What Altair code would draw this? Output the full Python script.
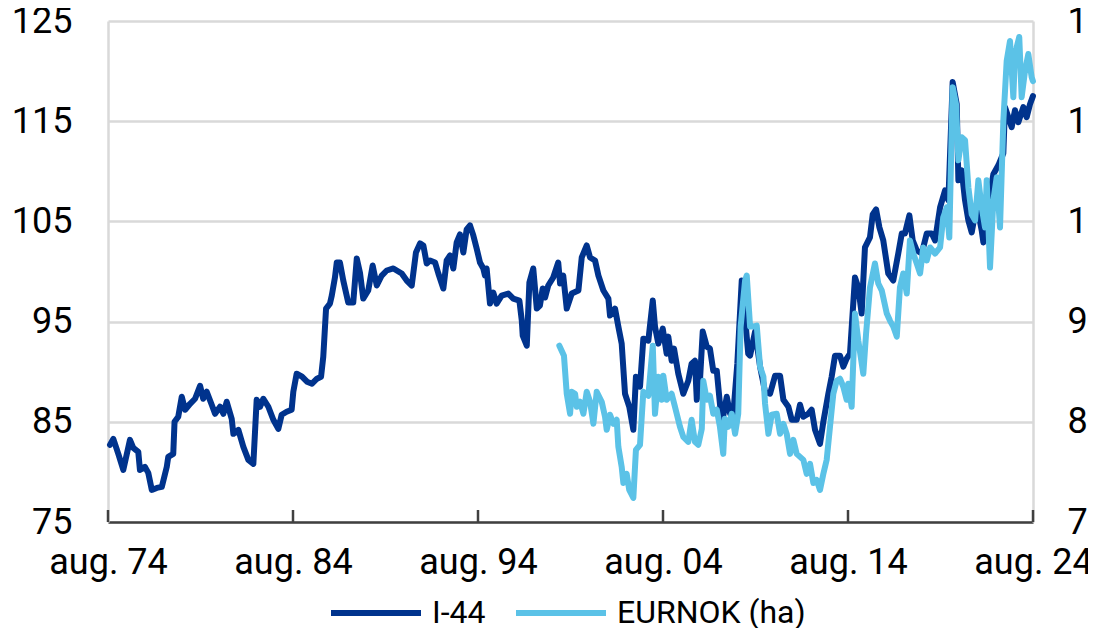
import altair as alt
import pandas as pd

# ---- data (decimal years) ----
i44_year = [1974.69, 1974.87, 1975.14, 1975.41, 1975.77, 1975.95, 1976.22, 1976.31, 1976.58, 1976.76,
            1976.95, 1977.22, 1977.49, 1977.76, 1977.84, 1978.11, 1978.18, 1978.38, 1978.57, 1978.75,
            1979.02, 1979.29, 1979.56, 1979.73, 1979.92, 1980.19, 1980.37, 1980.64, 1980.82, 1981.00,
            1981.27, 1981.36, 1981.63, 1981.90, 1982.17, 1982.44, 1982.62, 1982.80, 1982.98, 1983.25,
            1983.52, 1983.79, 1983.97, 1984.24, 1984.51, 1984.60, 1984.78, 1985.07, 1985.34, 1985.61,
            1985.88, 1986.10, 1986.22, 1986.37, 1986.58, 1986.68, 1986.85, 1986.95, 1987.12, 1987.30,
            1987.57, 1987.84, 1988.03, 1988.21, 1988.38, 1988.65, 1988.89, 1989.11, 1989.38, 1989.65,
            1990.01, 1990.46, 1990.73, 1991.00, 1991.23, 1991.45, 1991.63, 1991.81, 1991.99, 1992.26,
            1992.44, 1992.71, 1992.89, 1993.07, 1993.25, 1993.43, 1993.61, 1993.79, 1993.97, 1994.15,
            1994.33, 1994.51, 1994.69, 1994.87, 1994.96, 1995.05, 1995.23, 1995.41, 1995.59, 1995.86,
            1996.22, 1996.49, 1996.82, 1996.95, 1997.00, 1997.22, 1997.36, 1997.57, 1997.76, 1997.93,
            1998.08, 1998.21, 1998.38, 1998.65, 1998.92, 1999.02, 1999.19, 1999.38, 1999.65, 2000.01,
            2000.19, 2000.46, 2000.64, 2000.91, 2001.09, 2001.36, 2001.63, 2001.72, 2001.99, 2002.17,
            2002.35, 2002.53, 2002.76, 2002.98, 2003.12, 2003.34, 2003.52, 2003.79, 2004.03, 2004.15,
            2004.33, 2004.57, 2004.78, 2004.87, 2005.05, 2005.18, 2005.41, 2005.68, 2005.95, 2006.13,
            2006.31, 2006.41, 2006.58, 2006.73, 2006.95, 2007.12, 2007.30, 2007.49, 2007.66, 2007.76,
            2008.03, 2008.21, 2008.38, 2008.60, 2008.84, 2009.19, 2009.29, 2009.56, 2009.83, 2010.10,
            2010.37, 2010.64, 2010.91, 2011.09, 2011.36, 2011.54, 2011.81, 2011.99, 2012.17, 2012.44,
            2012.62, 2012.80, 2013.07, 2013.25, 2013.52, 2013.70, 2013.88, 2014.15, 2014.33, 2014.51,
            2014.69, 2014.96, 2015.14, 2015.32, 2015.50, 2015.77, 2015.92, 2016.10, 2016.28, 2016.49,
            2016.76, 2017.03, 2017.30, 2017.49, 2017.66, 2017.90, 2018.08, 2018.30, 2018.57, 2018.84,
            2019.11, 2019.29, 2019.56, 2019.83, 2020.01, 2020.24, 2020.46, 2020.55, 2020.73, 2020.91,
            2021.09, 2021.27, 2021.54, 2021.81, 2021.90, 2022.08, 2022.26, 2022.44, 2022.71, 2022.98,
            2023.07, 2023.43, 2023.61, 2023.79, 2024.06, 2024.24, 2024.42, 2024.58]
i44_value = [82.7, 83.3, 81.8, 80.2, 83.2, 82.4, 82.0, 80.2, 80.5, 79.9,
             78.2, 78.4, 78.5, 80.5, 81.5, 81.8, 85.0, 85.5, 87.5, 86.2,
             86.8, 87.3, 88.6, 87.3, 88.0, 86.7, 85.8, 86.5, 85.8, 87.0,
             85.3, 83.8, 84.2, 82.5, 81.2, 80.8, 87.2, 86.5, 87.3, 86.5,
             85.2, 84.3, 85.7, 86.0, 86.2, 88.0, 89.8, 89.5, 89.0, 88.8,
             89.3, 89.5, 91.5, 96.3, 96.8, 97.6, 99.4, 100.9, 100.9, 99.1,
             96.9, 96.9, 101.3, 99.8, 97.3, 98.1, 100.6, 98.6, 99.6, 100.1,
             100.3, 99.8, 99.1, 98.6, 101.9, 102.8, 102.6, 100.8, 101.1, 100.9,
             99.8, 98.3, 101.1, 101.6, 100.3, 102.9, 103.7, 101.9, 104.2, 104.6,
             103.6, 102.3, 100.9, 100.3, 99.6, 100.3, 96.8, 97.9, 96.8, 97.6,
             97.8, 97.3, 97.1, 95.1, 93.6, 92.6, 98.9, 100.3, 96.3, 96.6,
             98.3, 97.4, 98.6, 99.4, 100.9, 98.8, 99.6, 96.3, 97.8, 98.1,
             101.4, 102.6, 101.4, 101.1, 99.6, 98.1, 97.3, 95.6, 96.3, 94.5,
             92.8, 87.8, 86.5, 84.2, 89.5, 88.5, 93.3, 93.1, 97.1, 94.5,
             92.8, 94.3, 91.8, 93.5, 91.1, 92.3, 89.8, 87.8, 89.1, 90.8,
             91.1, 87.2, 89.1, 94.0, 92.5, 92.3, 90.1, 90.1, 86.8, 84.8,
             87.5, 85.8, 85.7, 90.8, 99.1, 91.8, 91.6, 94.0, 90.5, 88.0,
             87.8, 89.6, 89.6, 87.2, 86.5, 85.2, 85.2, 86.7, 85.5, 85.8,
             86.2, 84.2, 82.8, 85.0, 87.8, 89.5, 91.6, 91.6, 90.5, 91.3,
             91.8, 99.4, 98.4, 95.8, 102.4, 103.4, 105.7, 106.2, 104.4, 103.1,
             99.8, 99.1, 101.8, 103.8, 103.8, 105.6, 103.1, 102.1, 101.8, 103.8,
             103.8, 103.1, 106.4, 108.1, 107.1, 118.9, 116.7, 109.1, 110.1, 107.1,
             105.1, 103.9, 106.7, 104.1, 102.9, 106.4, 107.7, 109.7, 110.6, 111.8,
             116.4, 114.4, 116.1, 114.9, 116.4, 115.4, 116.7, 117.5]

eurnok_year = [1998.98, 1999.23, 1999.38, 1999.56, 1999.65, 1999.83, 1999.92, 2000.10, 2000.28, 2000.46,
               2000.64, 2000.82, 2001.00, 2001.27, 2001.45, 2001.54, 2001.72, 2001.90, 2002.08, 2002.17,
               2002.35, 2002.44, 2002.62, 2002.76, 2002.98, 2003.12, 2003.34, 2003.52, 2003.79, 2004.03,
               2004.15, 2004.33, 2004.51, 2004.60, 2004.78, 2005.05, 2005.23, 2005.50, 2005.68, 2005.95,
               2006.13, 2006.31, 2006.49, 2006.68, 2006.76, 2006.95, 2007.12, 2007.30, 2007.49, 2007.66,
               2007.84, 2007.93, 2008.11, 2008.30, 2008.48, 2008.65, 2008.78, 2009.02, 2009.11, 2009.29,
               2009.46, 2009.65, 2009.83, 2010.01, 2010.10, 2010.28, 2010.46, 2010.73, 2010.91, 2011.09,
               2011.27, 2011.45, 2011.63, 2011.81, 2011.99, 2012.17, 2012.35, 2012.53, 2012.71, 2012.89,
               2013.07, 2013.25, 2013.43, 2013.61, 2013.79, 2013.97, 2014.15, 2014.33, 2014.51, 2014.60,
               2014.78, 2014.96, 2015.14, 2015.41, 2015.56, 2015.77, 2016.04, 2016.22, 2016.41, 2016.68,
               2016.85, 2017.03, 2017.22, 2017.39, 2017.57, 2017.76, 2017.93, 2018.11, 2018.30, 2018.48,
               2018.65, 2018.84, 2019.02, 2019.29, 2019.56, 2019.73, 2019.92, 2020.06, 2020.24, 2020.42,
               2020.55, 2020.73, 2020.91, 2021.09, 2021.27, 2021.45, 2021.63, 2021.81, 2021.99, 2022.08,
               2022.26, 2022.44, 2022.62, 2022.80, 2022.98, 2023.16, 2023.34, 2023.52, 2023.61, 2023.84,
               2023.97, 2024.15, 2024.33, 2024.51, 2024.58]
eurnok_value = [8.76, 8.66, 8.28, 8.08, 8.30, 8.28, 8.15, 8.20, 8.08, 8.30,
                8.20, 7.98, 8.30, 8.20, 8.05, 7.92, 8.07, 7.98, 8.02, 7.75,
                7.55, 7.39, 7.48, 7.32, 7.24, 7.72, 7.77, 8.30, 8.26, 8.76,
                8.08, 8.45, 8.22, 8.46, 8.22, 8.28, 8.15, 7.95, 7.85, 7.80,
                8.02, 7.80, 7.77, 7.93, 8.41, 8.22, 8.26, 8.08, 8.12, 7.95,
                7.68, 8.03, 7.95, 8.08, 7.88, 8.08, 8.95, 9.41, 9.46, 8.95,
                8.95, 8.96, 8.55, 8.45, 8.18, 7.88, 8.07, 8.08, 7.88, 7.98,
                7.88, 7.68, 7.82, 7.68, 7.65, 7.62, 7.48, 7.58, 7.39, 7.42,
                7.32, 7.48, 7.62, 7.95, 8.28, 8.41, 8.43, 8.35, 8.22, 8.38,
                8.15, 9.08, 8.81, 8.48, 8.88, 9.34, 9.58, 9.38, 9.31, 9.08,
                9.01, 8.95, 8.85, 9.34, 9.48, 9.28, 9.81, 9.68, 9.58, 9.48,
                9.74, 9.61, 9.74, 9.68, 9.74, 10.04, 10.14, 9.84, 11.34, 11.17,
                10.61, 10.84, 10.81, 10.34, 10.07, 10.01, 10.41, 10.14, 9.94, 10.41,
                9.54, 10.21, 10.44, 9.94, 11.00, 11.60, 11.80, 11.24, 11.67, 11.84,
                11.24, 11.50, 11.67, 11.44, 11.40]

tick_years = [1974.583, 1984.583, 1994.583, 2004.583, 2014.583, 2024.583]
left_ticks = [75, 85, 95, 105, 115, 125]
right_ticks = [7, 8, 9, 10, 11, 12]
series_names = ["I-44", "EURNOK (ha)"]
series_colors = ["#00338d", "#5bc2e7"]

df_i44 = pd.DataFrame({"year": i44_year, "value": i44_value, "series": series_names[0]})
df_eur = pd.DataFrame({"year": eurnok_year, "value": eurnok_value, "series": series_names[1]})
df_ticks = pd.DataFrame({"year": tick_years})

W, H = 925, 501
FONT = "Roboto"
LBL = 36

x_enc = alt.X(
    "year:Q",
    scale=alt.Scale(domain=[tick_years[0], tick_years[-1]], nice=False, zero=False),
    axis=alt.Axis(
        values=tick_years,
        labelExpr="'aug. ' + substring(toString(floor(datum.value)), 2, 4)",
        title=None, grid=False, ticks=False, tickSize=0,
        domainColor="#404040", domainWidth=2.5,
        labelFontSize=LBL, labelFont=FONT, labelColor="#000000",
        labelPadding=23, labelFlush=False, labelOverlap=False, labelBound=False,
    ),
)

color_enc = alt.Color(
    "series:N",
    scale=alt.Scale(domain=series_names, range=series_colors),
    sort=series_names,
    legend=alt.Legend(
        title=None, orient="none", legendX=220, legendY=544,
        direction="horizontal", symbolType="stroke", symbolSize=8100,
        symbolStrokeWidth=6, labelFontSize=32, labelFont=FONT, labelColor="#000000",
        labelOffset=8, columnPadding=18, padding=0, labelLimit=0,
    ),
)

line_style = dict(strokeWidth=6, strokeJoin="round", strokeCap="round")

dark = alt.Chart(df_i44).mark_line(**line_style).encode(
    x=x_enc,
    y=alt.Y(
        "value:Q",
        scale=alt.Scale(domain=[75, 125], nice=False, zero=False),
        axis=alt.Axis(
            values=left_ticks, orient="left", title=None, grid=True,
            gridColor="#d9d9d9", gridWidth=2.5, ticks=False, tickSize=0,
            domainColor="#d9d9d9", domainWidth=2.5,
            labelFontSize=LBL, labelFont=FONT, labelColor="#000000",
            labelPadding=36, labelFlush=False, labelOverlap=False,
        ),
    ),
    color=color_enc,
)

light = alt.Chart(df_eur).mark_line(**line_style).encode(
    x=x_enc,
    y=alt.Y(
        "value:Q",
        scale=alt.Scale(domain=[7, 12], nice=False, zero=False),
        axis=alt.Axis(
            values=right_ticks, orient="right", title=None, grid=False,
            ticks=False, tickSize=0, domainColor="#d9d9d9", domainWidth=2.5,
            labelFontSize=LBL, labelFont=FONT, labelColor="#000000",
            labelPadding=34, labelFlush=False, labelOverlap=False,
        ),
    ),
    color=color_enc,
)

tick_marks = alt.Chart(df_ticks).mark_rule(color="#404040", strokeWidth=2.5).encode(
    x=x_enc,
    y=alt.value(H - 12),
    y2=alt.value(H),
)

chart = (
    alt.layer(dark, light, tick_marks)
    .resolve_scale(y="independent")
    .properties(
        width=W, height=H,
        padding={"left": 100, "top": 13, "right": 55, "bottom": 106},
        autosize=alt.AutoSizeParams(type="none"),
        background="white",
    )
    .configure_view(stroke=None)
)

chart.save("out.html", embed_options={"renderer": "svg", "actions": False})
